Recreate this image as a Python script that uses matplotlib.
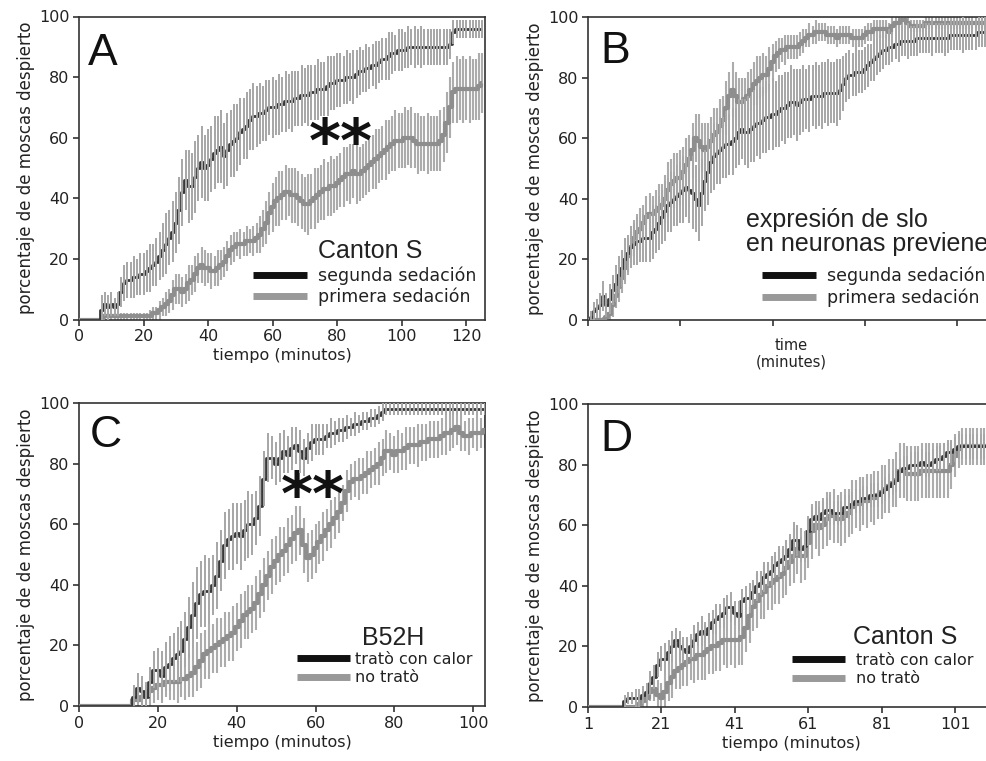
import matplotlib
matplotlib.use("Agg")
import matplotlib.pyplot as plt
from matplotlib.lines import Line2D

plt.rcParams['font.family'] = ['DejaVu Sans']

# ---------------- Panel A (Canton S) ----------------
A_min = list(range(0, 126))
A_seg_mean = [0,0,0,0,0,0,0,3,5,4,
              5,4,5,9,12,13,13,14,14,15,
              15,16,17,18,19,21,23,25,27,29,
              32,36,42,46,44,44,47,50,52,50,
              51,53,55,56,57,54,56,58,59,60,
              62,63,64,66,67,67,68,68,69,70,
              70,70,71,71,72,72,72,73,73,74,
              74,74,75,75,76,76,76,77,78,78,
              79,79,79,80,80,80,81,82,82,83,
              83,84,84,85,86,86,87,88,88,89,
              89,89,90,90,90,90,90,90,90,90,
              90,90,90,90,90,91,95,96,96,96,
              96,96,96,96,96,96]
A_seg_err = [0,0,0,0,0,0,0,5,4,4,
             4,3,4,5,6,6,6,7,6,7,
             7,7,8,7,8,8,9,10,9,10,
             10,11,11,10,12,11,12,11,12,11,
             12,11,12,11,12,11,12,11,12,11,
             11,10,11,10,11,10,10,9,10,9,
             10,9,10,9,10,9,10,9,9,10,
             9,10,9,9,10,9,9,10,9,9,
             9,9,8,9,8,9,8,8,7,8,
             7,7,8,7,7,7,8,7,6,7,
             7,6,7,6,7,6,7,6,6,6,
             6,6,6,6,6,5,4,3,3,3,
             3,3,3,3,3,3]
A_pri_mean = [0,0,0,0,0,0,0,0,1,1,
              1,1,1,1,1,1,1,1,1,1,
              1,1,1,2,2,3,4,5,6,8,
              10,10,9,10,12,13,15,17,18,17,
              17,16,16,17,18,19,21,23,24,25,
              25,25,26,26,26,27,28,30,32,35,
              37,39,40,41,42,42,41,41,40,39,
              38,38,39,40,41,42,43,43,44,44,
              45,46,47,48,48,49,48,48,49,50,
              51,52,53,54,55,56,57,58,59,59,
              59,60,60,60,59,58,58,58,58,58,
              58,58,59,61,65,70,75,76,76,76,
              76,76,76,76,77,78]
A_pri_err = [0,0,0,0,0,0,0,0,1,1,
             1,1,1,1,1,1,1,1,1,1,
             1,1,2,2,2,3,3,4,4,5,
             5,5,5,5,6,5,6,5,6,6,
             5,6,5,6,5,5,5,5,5,4,
             5,4,5,4,5,5,6,6,7,7,
             8,8,9,8,9,8,9,9,9,9,
             9,10,9,10,9,9,10,9,10,9,
             9,9,10,9,10,9,10,9,9,9,
             9,9,10,9,9,10,9,9,10,9,
             9,10,9,10,9,10,9,9,10,9,
             9,9,10,9,10,10,10,11,10,11,
             10,11,10,10,11,10]

# ---------------- Panel B (slo) ----------------
B_time = list(range(0, 132))
B_seg_mean = [0,1,3,4,5,8,5,7,10,12,
              15,17,20,22,24,25,26,26,27,27,
              27,29,30,32,34,36,38,39,40,41,
              42,43,44,43,42,40,38,42,46,49,
              52,54,55,56,57,58,58,59,60,62,
              63,62,62,63,64,65,65,66,67,67,
              68,68,69,70,70,71,72,72,71,72,
              73,73,73,74,74,74,74,75,75,75,
              75,75,76,78,80,81,81,82,82,82,
              83,84,85,86,87,88,89,89,90,90,
              91,91,92,92,92,92,92,93,93,93,
              93,93,93,93,93,93,93,93,94,94,
              94,94,94,94,94,94,94,95,95,95,
              95,95]
B_seg_err = [0,2,3,3,4,5,4,5,5,6,
             6,6,7,6,7,7,8,7,8,8,
             8,9,8,9,9,10,9,10,9,10,
             10,11,10,11,12,11,12,11,10,11,
             10,11,10,11,10,11,10,11,10,11,
             10,11,12,11,12,11,12,11,12,11,
             12,11,12,11,12,11,12,11,12,11,
             11,10,11,10,11,10,11,10,11,10,
             10,11,10,9,8,8,7,8,7,7,
             7,7,6,7,6,6,6,5,6,5,
             5,6,5,5,6,5,5,6,5,5,
             5,5,6,5,5,5,6,5,5,5,
             5,5,6,5,5,5,5,5,5,5,
             5,5]
B_pri_mean = [0,0,0,0,0,0,1,2,5,8,
              11,14,17,21,24,27,29,30,32,34,
              35,35,36,37,38,40,43,45,46,47,
              47,49,51,53,56,60,59,57,56,57,
              59,61,62,64,66,70,74,76,74,72,
              72,73,74,76,78,79,80,81,81,83,
              85,87,88,89,89,90,90,90,90,91,
              92,93,94,94,95,95,95,95,94,94,
              94,93,94,94,94,94,93,93,93,93,
              94,95,95,96,96,96,96,96,95,97,
              98,98,99,99,98,97,97,97,97,97,
              98,98,98,98,98,98,98,98,98,98,
              98,98,98,98,98,98,98,98,98,98,
              98,98]
B_pri_err = [0,0,1,1,1,1,2,3,4,4,
             5,5,5,6,5,6,6,7,6,7,
             7,6,7,8,7,8,9,8,9,8,
             9,8,9,8,9,8,9,8,9,8,
             8,9,8,9,8,9,8,9,8,8,
             8,7,8,7,7,8,7,7,6,7,
             6,5,5,4,5,4,4,4,4,4,
             4,3,4,3,4,3,3,3,3,3,
             3,3,3,3,3,3,3,3,3,3,
             3,3,3,3,3,3,3,3,3,3,
             2,2,2,2,2,2,2,2,2,2,
             2,2,2,2,2,2,2,2,2,2,
             2,2,2,2,2,2,2,2,2,2,
             2,2]

# ---------------- Panel C (B52H) ----------------
C_min = list(range(0, 104))
C_heat_mean = [0,0,0,0,0,0,0,0,0,0,
               0,0,0,0,3,6,5,3,8,12,
               12,10,13,14,16,17,18,22,26,30,
               34,37,38,38,40,43,48,53,55,56,
               57,56,58,60,60,62,66,75,82,82,
               80,82,84,83,85,86,84,82,85,87,
               88,88,88,89,90,90,91,91,92,92,
               93,93,94,94,95,95,96,97,98,98,
               98,98,98,98,98,98,98,98,98,98,
               98,98,98,98,98,98,98,98,98,98,
               98,98,98,98]
C_heat_err = [0,0,0,0,0,0,0,0,0,0,
              0,0,0,0,4,5,5,4,5,6,
              7,8,8,9,8,9,10,9,10,11,
              12,11,12,11,10,11,10,11,10,11,
              10,11,10,11,10,9,10,9,8,7,
              7,8,7,6,7,6,7,6,5,6,
              5,5,5,4,5,4,4,4,4,3,
              4,3,3,3,3,3,3,3,2,2,
              2,2,2,2,2,2,2,2,2,2,
              2,2,2,2,2,2,2,2,2,2,
              2,2,2,2]
C_no_mean = [0,0,0,0,0,0,0,0,0,0,
             0,0,0,0,2,2,3,4,5,6,
             7,7,8,8,8,8,9,9,10,11,
             13,15,17,18,19,20,21,22,23,24,
             26,28,30,31,32,34,37,40,43,46,
             48,50,51,53,55,57,58,53,49,50,
             52,54,56,58,60,62,64,67,71,74,
             75,75,76,77,78,79,80,82,84,84,
             83,84,84,85,86,86,86,87,87,88,
             88,88,89,90,90,91,92,90,89,89,
             90,90,90,91]
C_no_err = [0,0,0,0,0,0,0,0,0,0,
            0,0,0,0,3,3,4,4,5,5,
            5,6,5,6,6,7,6,7,7,8,
            8,9,8,9,8,9,8,9,8,9,
            8,9,8,9,8,9,8,9,8,9,
            8,9,8,9,8,9,8,9,8,8,
            8,7,8,7,8,7,7,6,7,6,
            6,7,6,7,6,6,7,6,7,6,
            6,7,6,7,6,6,7,6,6,6,
            6,6,6,7,6,6,6,6,5,6,
            5,6,5,6]

# ---------------- Panel D (Canton S, heat) ----------------
D_min = list(range(1, 112))
D_heat_mean = [0,0,0,0,0,0,0,0,0,0,
               2,3,3,3,3,4,5,8,10,14,
               16,16,18,20,22,20,19,18,20,22,
               24,25,24,26,28,29,30,31,33,33,
               31,30,35,36,36,38,40,41,43,44,
               45,47,48,49,50,52,55,55,52,53,
               58,62,63,62,64,65,65,64,64,64,
               66,66,67,68,68,69,69,70,70,70,
               71,72,73,74,75,78,79,79,80,80,
               80,81,80,80,81,82,82,83,84,84,
               85,86,86,86,86,86,86,86,86,86,
               86]
D_heat_err = [0,0,0,0,0,0,0,0,0,0,
              2,2,2,3,3,3,3,4,4,4,
              4,5,4,5,4,5,4,5,4,5,
              4,5,4,5,4,5,4,5,4,5,
              4,5,4,4,5,4,5,4,5,4,
              5,4,5,4,5,5,6,5,4,5,
              5,4,5,4,5,4,5,4,4,4,
              4,4,4,4,4,4,4,4,4,4,
              4,4,4,4,4,4,4,4,4,4,
              4,4,4,4,4,4,4,4,4,4,
              4,4,4,4,4,4,4,4,4,4,
              4]
D_no_mean = [0,0,0,0,0,0,0,0,0,0,
             0,0,0,0,1,2,3,5,6,4,
             3,5,8,10,12,13,14,15,16,16,
             17,17,18,19,20,20,21,22,22,22,
             22,22,23,26,30,33,35,37,38,40,
             41,42,43,44,46,48,50,52,50,50,
             54,58,60,59,60,62,63,63,62,62,
             63,64,66,67,67,68,68,69,69,70,
             71,72,73,74,75,78,78,77,77,77,
             77,78,78,78,78,78,78,78,78,80,
             83,85,86,86,86,86,86,86,86,86,
             86]
D_no_err = [0,0,0,0,0,0,0,0,0,0,
            0,0,0,0,1,2,3,3,4,5,
            5,6,6,7,6,7,7,8,7,8,
            8,8,9,8,9,8,9,8,9,8,
            9,8,9,8,9,8,9,8,9,8,
            9,8,9,8,9,8,9,8,9,8,
            8,9,8,9,8,9,8,9,8,9,
            9,8,9,8,9,8,9,8,9,8,
            9,8,9,8,9,9,9,9,9,9,
            9,9,9,9,9,9,9,9,9,8,
            7,6,6,6,6,6,6,6,6,6,
            6]

y_ticks = [0, 20, 40, 60, 80, 100]
A_xticks = [0, 20, 40, 60, 80, 100, 120]
B_xticks = [0, 30, 60, 90, 120]
C_xticks = [0, 20, 40, 60, 80, 100]
D_xticks = [1, 21, 41, 61, 81, 101]

ylabel = "porcentaje de de moscas despierto"
leg_sed = ["segunda sedación", "primera sedación"]
leg_heat = ["tratò con calor", "no tratò"]

DARK = '#383838'
GREY = '#8e8e8e'
ERR = '#acacac'
SPINE = '#333333'
TXT = '#222222'
TITLEFONT = ['Liberation Sans', 'DejaVu Sans']

fig = plt.figure(figsize=(9.87, 7.61), dpi=100)
W = 406 / 987
H = 303 / 761
axA = fig.add_axes([79 / 987, 1 - 319.5 / 761, W, H])
axB = fig.add_axes([588 / 987, 1 - 320 / 761, W, H])
axC = fig.add_axes([79 / 987, 1 - 706 / 761, W, H])
axD = fig.add_axes([588 / 987, 1 - 707 / 761, W, H])


def draw(ax, t, dm, de, gm, ge):
    ax.errorbar(t, gm, yerr=ge, fmt='none', ecolor=ERR, elinewidth=1.5, zorder=2)
    ax.plot(t, gm, color=GREY, lw=3.0, zorder=3, drawstyle='steps-mid', solid_capstyle='butt')
    ax.plot(t, dm, color=DARK, lw=2.0, zorder=4, drawstyle='steps-mid', solid_capstyle='butt')
    ax.errorbar(t, dm, yerr=de, fmt='none', ecolor='#a6a6a6', elinewidth=1.4, zorder=5)


def style(ax, xlim, xticks, show_xlabels=True):
    ax.set_xlim(*xlim)
    ax.set_ylim(0, 100)
    ax.set_yticks(y_ticks)
    ax.set_xticks(xticks)
    if not show_xlabels:
        ax.set_xticklabels([])
    for s in ax.spines.values():
        s.set_color(SPINE)
        s.set_linewidth(1.2)
    ax.tick_params(direction='out', length=4, width=1.2, colors=SPINE,
                   labelcolor=TXT, labelsize=11.5, pad=3)
    ax.set_ylabel(ylabel, fontsize=12, color=TXT, labelpad=3)


def legend(ax, labels, x0, y0, fs, hl, htp, ls):
    handles = [Line2D([], [], color='#111111', lw=5, solid_capstyle='butt'),
               Line2D([], [], color='#999999', lw=5, solid_capstyle='butt')]
    ax.legend(handles, labels, loc='upper left', bbox_to_anchor=(x0, y0),
              frameon=False, fontsize=fs, handlelength=hl, handletextpad=htp,
              labelspacing=ls, borderpad=0, borderaxespad=0, labelcolor=TXT)


# A
draw(axA, A_min, A_seg_mean, A_seg_err, A_pri_mean, A_pri_err)
style(axA, (0, 125.8), A_xticks)
axA.set_xlabel("tiempo (minutos)", fontsize=11.5, color=TXT, labelpad=3)
axA.text(0.022, 0.84, "A", transform=axA.transAxes, fontsize=32, family=TITLEFONT, color='#111')
axA.text(0.589, 0.226, "Canton S", transform=axA.transAxes, fontsize=18, family=TITLEFONT,
         color=TXT, va='center')
legend(axA, leg_sed, 0.4286, 0.175, 12.5, 3.1, 0.62, 0.15)
axA.text(81, 52, "**", fontsize=44, fontweight='bold', ha='center', va='baseline', color='#111')

# B
draw(axB, B_time, B_seg_mean, B_seg_err, B_pri_mean, B_pri_err)
style(axB, (0, 132), B_xticks, show_xlabels=False)
axB.set_xlabel("time\n(minutes)", fontsize=10.5, color=TXT, labelpad=6, linespacing=1.1)
axB.text(0.03, 0.847, "B", transform=axB.transAxes, fontsize=32, family=TITLEFONT, color='#111')
axB.text(0.389, 0.29, "expresión de slo\nen neuronas previene", transform=axB.transAxes,
         fontsize=18, family=TITLEFONT, color=TXT, va='center', linespacing=1.0)
legend(axB, leg_sed, 0.4286, 0.175, 12.5, 3.1, 0.62, 0.15)

# C
draw(axC, C_min, C_heat_mean, C_heat_err, C_no_mean, C_no_err)
style(axC, (0, 103), C_xticks)
axC.set_xlabel("tiempo (minutos)", fontsize=11.5, color=TXT, labelpad=3)
axC.text(0.027, 0.855, "C", transform=axC.transAxes, fontsize=32, family=TITLEFONT, color='#111')
axC.text(0.697, 0.224, "B52H", transform=axC.transAxes, fontsize=18, family=TITLEFONT,
         color=TXT, va='center')
legend(axC, leg_heat, 0.537, 0.178, 11.5, 3.3, 0.3, 0.2)
axC.text(59.4, 63, "**", fontsize=44, fontweight='bold', ha='center', va='baseline', color='#111')

# D
draw(axD, D_min, D_heat_mean, D_heat_err, D_no_mean, D_no_err)
style(axD, (1, 111.6), D_xticks)
axD.set_xlabel("tiempo (minutos)", fontsize=11.5, color=TXT, labelpad=3)
axD.text(0.03, 0.845, "D", transform=axD.transAxes, fontsize=32, family=TITLEFONT, color='#111')
axD.text(0.653, 0.231, "Canton S", transform=axD.transAxes, fontsize=18, family=TITLEFONT,
         color=TXT, va='center')
legend(axD, leg_heat, 0.502, 0.178, 11.5, 3.3, 0.75, 0.2)

fig.savefig("out.png", dpi=100)
